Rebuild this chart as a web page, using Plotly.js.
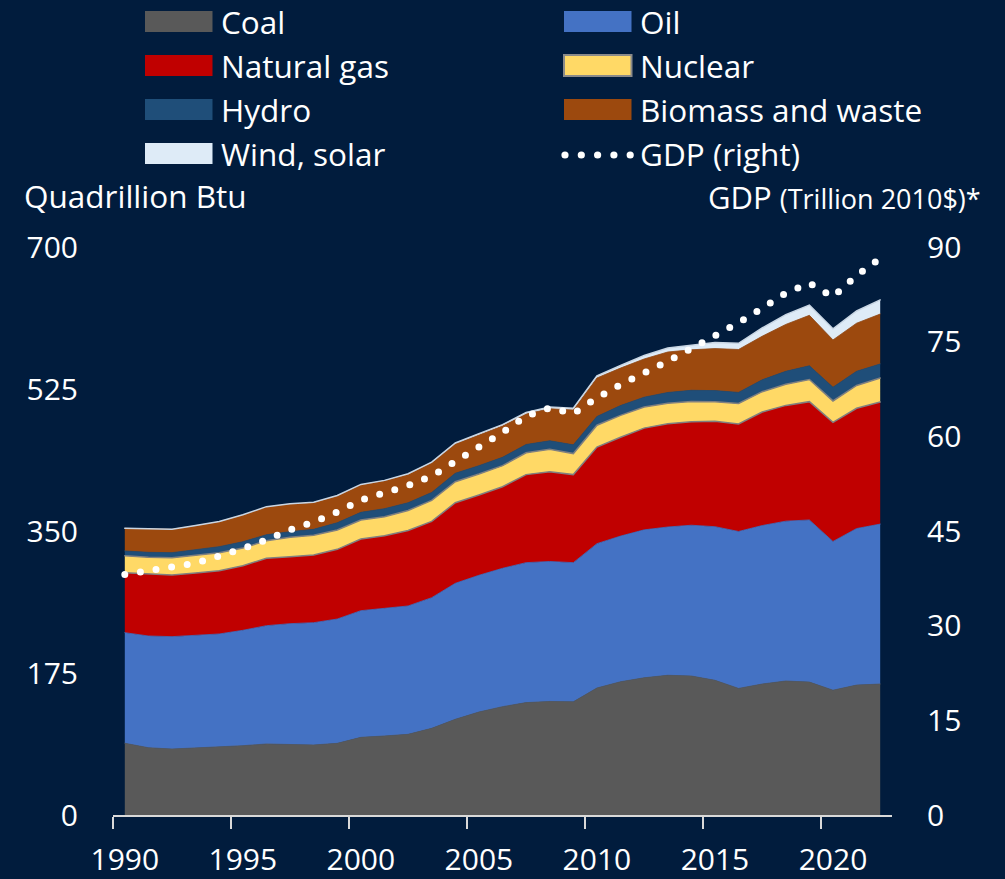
<!DOCTYPE html>
<html><head><meta charset="utf-8">
<script src="https://cdn.plot.ly/plotly-3.0.1.min.js"></script>
<style>
html,body{margin:0;padding:0;background:#011c3d;}
#chart{width:1005px;height:879px;}
.scatterlayer path.js-line{stroke-linecap:round;}
</style></head><body><div id="chart"></div>
<script>
const years = [1990,1991,1992,1993,1994,1995,1996,1997,1998,1999,2000,2001,2002,2003,2004,2005,2006,2007,2008,2009,2010,2011,2012,2013,2014,2015,2016,2017,2018,2019,2020,2021,2022];
const coal    = [88.4,82.9,81.3,82.6,83.8,85.4,87.5,87.1,86.3,88.3,95.7,97.4,99.4,106.8,117.9,126.9,133.5,138.5,139.9,139.5,156.5,164.2,169.1,172.2,171.3,166.0,156.0,161.4,165.1,163.8,153.8,160.1,161.4];
const oil     = [136.3,137.7,138.5,138.4,139.3,142.2,145.8,148.7,150.7,153.2,156.1,157.3,158.2,161.0,167.6,168.5,170.5,172.5,172.5,171.5,177.9,179.5,182.3,182.7,185.8,189.3,193.4,195.3,197.0,199.8,183.3,192.9,197.1];
const gas     = [73.9,76.4,76.0,77.2,78.0,79.7,83.0,82.5,83.4,85.9,88.3,89.5,93.0,94.0,99.4,99.0,100.6,108.5,110.7,108.5,119.1,121.9,125.4,127.2,127.4,129.9,132.6,140.0,142.7,145.8,146.8,148.2,150.5];
const nuclear = [21.0,20.6,21.3,21.8,22.2,21.7,21.7,23.9,24.3,23.8,23.5,23.4,24.7,26.0,25.9,25.8,25.9,26.9,27.7,25.9,26.9,26.9,26.0,25.2,25.1,24.2,25.1,25.0,26.0,27.3,26.4,28.2,29.6];
const hydro   = [5.8,6.1,6.2,6.6,7.4,7.8,7.4,7.0,7.4,9.0,9.4,9.9,9.5,9.7,10.3,10.3,10.3,10.2,10.4,10.8,10.7,12.1,12.1,13.4,13.8,13.6,13.7,14.6,16.0,16.9,16.9,17.4,17.3];
const biomass = [27.9,28.8,28.8,30.0,30.8,32.9,34.2,34.1,32.8,32.9,33.7,34.1,34.8,36.2,36.1,37.8,38.6,37.5,39.5,42.9,47.5,46.2,47.1,49.9,49.9,51.8,52.9,53.7,57.8,62.2,58.3,59.3,61.5];
const windSolar = [0.2,0.2,0.2,0.3,0.3,0.3,0.4,0.4,0.5,0.6,0.7,0.8,1.0,1.1,1.3,1.5,1.7,1.9,2.1,2.3,2.7,3.1,4.4,4.8,5.7,7.5,7.6,10.2,12.0,12.6,13.7,15.0,17.4];
const gdp     = [38.1,38.6,39.3,39.9,41.0,42.2,43.6,45.2,46.4,48.0,49.9,51.0,52.2,53.7,55.9,58.2,60.6,63.2,64.5,63.6,66.1,68.2,69.9,71.9,73.9,75.8,78.0,80.3,82.7,84.3,82.1,85.5,88.2];

const seriesNames = ['Coal','Oil','Natural gas','Nuclear','Hydro','Biomass and waste','Wind, solar','GDP (right)'];
const leftTicks = [0,175,350,525,700];
const rightTicks = [0,15,30,45,60,75,90];
const yearLabels = [1990,1995,2000,2005,2010,2015,2020];
const yearBoundaries = [1989.5,1994.5,1999.5,2004.5,2009.5,2014.5,2019.5];

const colors = ['#595959','#4472c4','#c00000','#ffd966','#1f4e79','#9c490e','#deebf7'];
const lineColors = ['#595959','#4472c4','#808080','#808080','#1f4e79','#9c490e','#c9d6e4'];
const lineWidths = [0.8,0.8,1.5,1.5,0.8,0.8,1.5];
const areaData = [coal,oil,gas,nuclear,hydro,biomass,windSolar];

const FONT = 'Open Sans, Noto Sans, sans-serif';
const traces = areaData.map((vals,i)=>({
  x: years, y: vals, name: seriesNames[i], type:'scatter', mode:'lines',
  stackgroup:'one', fillcolor: colors[i],
  line:{color: lineColors[i], width: lineWidths[i]},
  hoverinfo:'skip', showlegend:false
}));
traces.push({
  x: years, y: gdp, name: seriesNames[7], type:'scatter', mode:'lines', yaxis:'y2',
  line:{color:'#ffffff', width:7, dash:'0px,15.8px'}, hoverinfo:'skip', showlegend:false
});

// layout helpers (pixel -> paper)
const L=113, R=892, T=247, B=815;
const px = x => (x-L)/(R-L);
const py = y => (B-y)/(B-T);

const shapes = [];
const annotations = [];
for(let i=0;i<7;i++){
  const col=i%2, row=Math.floor(i/2);
  const x0 = col? 564:145, yc = 21.5+44*row;
  shapes.push({type:'rect', xref:'paper', yref:'paper', x0:px(x0), x1:px(x0+67.5), y0:py(yc+10.5), y1:py(yc-10.5),
    fillcolor: colors[i], line:{color: i===3? '#8a8a8a':colors[i], width: i===3?2:0}});
}
for(let k=0;k<5;k++){
  const cx=565+16.3*k, cy=155, r=3.6;
  shapes.push({type:'circle', xref:'paper', yref:'paper', x0:px(cx-r), x1:px(cx+r), y0:py(cy+r), y1:py(cy-r), fillcolor:'#ffffff', line:{width:0}});
}
for(let i=0;i<8;i++){
  const col=i%2, row=Math.floor(i/2);
  annotations.push({xref:'paper', yref:'paper', x:px(col?638:219), y:py(21.5+44*row), xanchor:'left', yanchor:'middle',
    text: seriesNames[i], showarrow:false, font:{family:FONT, size:31.5, color:'#ffffff'}});
}
annotations.push({xref:'paper', yref:'paper', x:px(22), y:py(196), xanchor:'left', yanchor:'middle',
  text:'Quadrillion Btu', showarrow:false, font:{family:FONT, size:31.5, color:'#ffffff'}});
annotations.push({xref:'paper', yref:'paper', x:px(983), y:py(197), xanchor:'right', yanchor:'middle',
  text:'GDP <span style="font-size:27px">(Trillion 2010$)*</span>', showarrow:false, font:{family:FONT, size:31, color:'#ffffff'}});

const layout = {
  width:1005, height:879,
  margin:{l:L, r:1005-R, t:T, b:879-B, pad:0},
  paper_bgcolor:'#011c3d', plot_bgcolor:'#011c3d',
  showlegend:false,
  font:{family:FONT, color:'#ffffff', size:30},
  xaxis:{range:[1989.5,2022.5], tickmode:'array', tickvals:yearLabels, ticktext:yearLabels.map(String),
    ticks:'', showgrid:false, zeroline:false, showline:true, linecolor:'#d9d9d9', linewidth:2,
    tickfont:{family:FONT, size:30, color:'#ffffff'}, ticklabelstandoff:17,
    minor:{tickmode:'array', tickvals:yearBoundaries, ticks:'outside', ticklen:12, tickwidth:2, tickcolor:'#d9d9d9', showgrid:false}},
  yaxis:{range:[0,700], tickmode:'array', tickvals:leftTicks, ticks:'', showgrid:false, zeroline:false, showline:false,
    tickfont:{family:FONT, size:30, color:'#ffffff'}, ticklabelstandoff:34},
  yaxis2:{range:[0,90], tickmode:'array', tickvals:rightTicks, ticks:'', showgrid:false, zeroline:false, showline:false,
    overlaying:'y', side:'right', tickfont:{family:FONT, size:30, color:'#ffffff'}, ticklabelstandoff:34},
  shapes: shapes, annotations: annotations
};
Plotly.newPlot('chart', traces, layout, {displayModeBar:false, staticPlot:true});
</script></body></html>
